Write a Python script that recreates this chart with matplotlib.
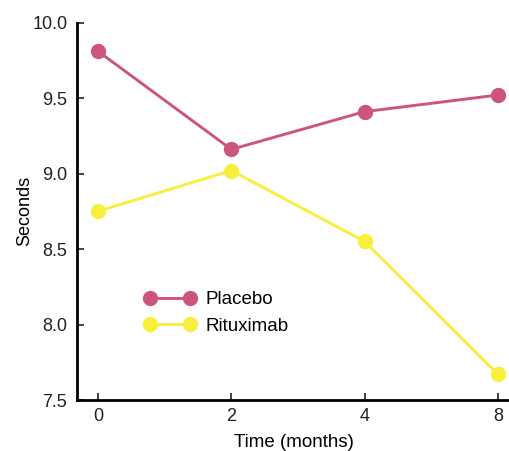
import numpy as np
import matplotlib
matplotlib.use("Agg")
import matplotlib.pyplot as plt

plt.rcParams['font.family'] = ['Liberation Sans', 'DejaVu Sans']

months = ["0", "2", "4", "8"]
placebo = [9.81, 9.16, 9.41, 9.52]
rituximab = [8.75, 9.02, 8.55, 7.67]

pink = "#cc5580"
yellow = "#f8ef3c"

fig = plt.figure(figsize=(5.1, 4.51), dpi=100)
ax = fig.add_axes([0.151, 0.113, 0.849, 0.837])

xx = np.arange(len(months))
ax.plot(xx, placebo, "-o", color=pink, lw=2.1, ms=10, label="Placebo")
ax.plot(xx, rituximab, "-o", color=yellow, lw=2.1, ms=10, label="Rituximab")

ax.set_xlim(-0.1575, 3.09)
ax.set_ylim(7.5, 10.0)
ax.set_xticks(xx)
ax.set_xticklabels(months)
ax.set_yticks([7.5, 8.0, 8.5, 9.0, 9.5, 10.0])
ax.set_yticklabels(["7.5", "8.0", "8.5", "9.0", "9.5", "10.0"])
ax.tick_params(direction="in", length=5, width=1.2, labelsize=13, colors="#222222", pad=7)
ax.tick_params(axis="x", pad=6)
for s in ["top", "right"]:
    ax.spines[s].set_visible(False)
for s in ["left", "bottom"]:
    ax.spines[s].set_linewidth(2)

ax.set_xlabel("Time (months)", fontsize=13.5, labelpad=6)
ax.set_ylabel("Seconds", fontsize=13, labelpad=-1)

ax.legend(loc="center left", bbox_to_anchor=(0.156, 0.2306), frameon=False,
          fontsize=13.5, numpoints=2, handlelength=2.73, handletextpad=0.5,
          labelspacing=0.5, borderpad=0, borderaxespad=0)

plt.savefig("out.png")
